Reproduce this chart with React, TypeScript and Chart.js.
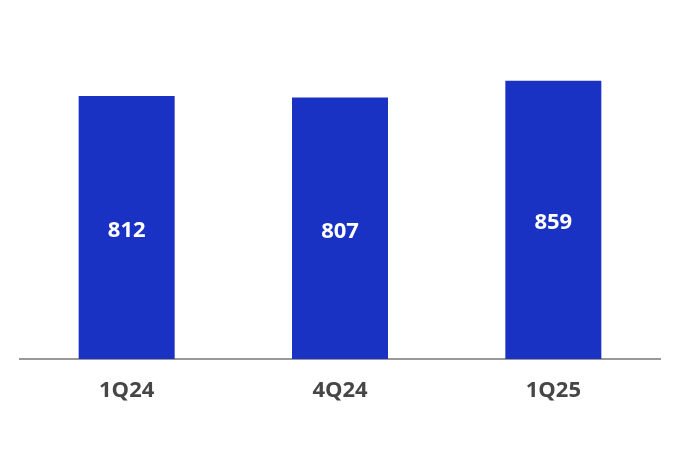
import { useEffect, useRef } from "react"
import { Chart, registerables } from "chart.js"

Chart.register(...registerables)

const quarters = ["1Q24", "4Q24", "1Q25"]
const values = [812, 807, 859]

const BAR_COLOR = "#1A32C4"
const FONT = "'Open Sans', sans-serif"

// etiquetas dentro das barras
const barLabels = {
  id: "barLabels",
  afterDatasetsDraw(chart: Chart) {
    const ctx = chart.ctx
    const meta = chart.getDatasetMeta(0)
    ctx.save()
    ctx.fillStyle = "#ffffff"
    ctx.font = `bold 22px ${FONT}`
    ctx.textAlign = "center"
    ctx.textBaseline = "middle"
    meta.data.forEach((bar: any, i) => {
      const mid = (bar.y + bar.base) / 2
      ctx.fillText(String(values[i]), bar.x, mid + 3)
    })
    ctx.restore()
  },
}

export default function App() {
  const chartRef = useRef<HTMLCanvasElement>(null)
  const chartInstance = useRef<Chart | null>(null)

  useEffect(() => {
    if (!chartRef.current) return
    if (chartInstance.current) chartInstance.current.destroy()

    chartInstance.current = new Chart(chartRef.current, {
      type: "bar",
      data: {
        labels: quarters,
        datasets: [
          {
            data: values,
            backgroundColor: BAR_COLOR,
            barPercentage: 0.45,
            categoryPercentage: 1,
          },
        ],
      },
      options: {
        animation: false,
        responsive: true,
        maintainAspectRatio: false,
        layout: { padding: { top: 35, left: 20, right: 20, bottom: 0 } },
        plugins: {
          legend: { display: false },
          tooltip: { enabled: false },
        },
        scales: {
          x: {
            grid: { display: false },
            border: { display: true, color: "#999999", width: 2 },
            ticks: {
              color: "#464646",
              font: { family: FONT, size: 22, weight: "bold" },
              padding: 11,
            },
            afterFit: (scale: any) => {
              scale.height = 93
            },
          },
          y: {
            display: false,
            min: 0,
            max: 1000,
          },
        },
      },
      plugins: [barLabels],
    })

    return () => {
      if (chartInstance.current) {
        chartInstance.current.destroy()
        chartInstance.current = null
      }
    }
  }, [])

  return (
    <div style={{ position: "absolute", left: 0, top: 0, width: 680, height: 452, background: "#fff" }}>
      <canvas ref={chartRef} />
    </div>
  )
}
